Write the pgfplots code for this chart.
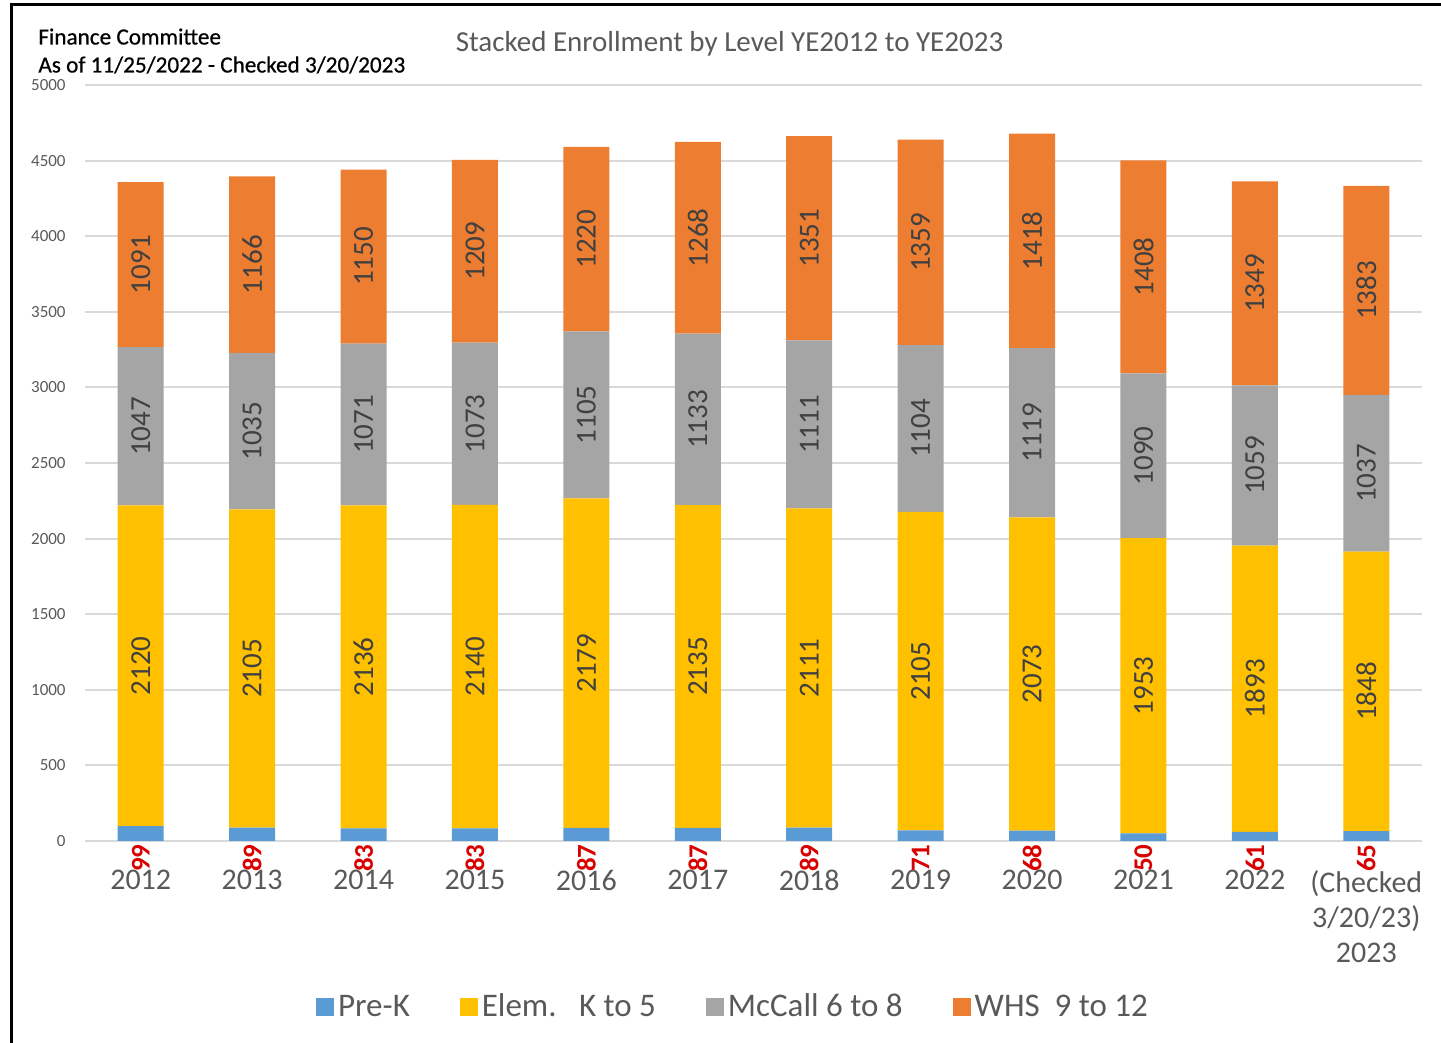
\documentclass[border=0pt]{standalone}
\usepackage{pgfplots}
\pgfplotsset{compat=1.18}
\usepackage{fontspec}
\setmainfont{Carlito}
\newfontfamily\heavyfont{Carlito}[RawFeature={embolden=0.6}]
\definecolor{prek}{HTML}{5B9BD5}
\definecolor{elem}{HTML}{FFC000}
\definecolor{mccall}{HTML}{A5A5A5}
\definecolor{whs}{HTML}{ED7D31}
\definecolor{gridc}{HTML}{D9D9D9}
\definecolor{txtg}{HTML}{595959}
\definecolor{lblg}{HTML}{404040}
\definecolor{redl}{HTML}{D80000}
\pgfplotsset{
  seglabel/.style={
    nodes near coords={\pgfmathprintnumber[fixed,precision=0]{\rawy}},
    every node near coord/.style={font=\fontsize{14.5}{16}\selectfont, text=lblg, rotate=90, anchor=center, inner sep=0pt},
  },
  prklabel/.style={
    nodes near coords={\pgfmathprintnumber[fixed,precision=0]{\rawy}},
    every node near coord/.style={font=\bfseries\fontsize{13.5}{15}\selectfont, text=redl, yshift={-0.0378pt*\rawy-1.5pt}, rotate=90, anchor=east, inner sep=0pt},
  },
}
\begin{document}
\begin{tikzpicture}
\path[use as bounding box] (0pt,0pt) rectangle (720.5pt,521.5pt);
\draw[line width=1.5pt] (5.5pt,0pt) -- (5.5pt,519pt) -- (720.5pt,519pt);
\node[anchor=base, inner sep=0pt, text=txtg, font=\fontsize{14.5}{17}\selectfont] at (364.75pt,495.5pt) {Stacked Enrollment by Level YE2012 to YE2023};
\node[anchor=base west, inner sep=0pt, font=\heavyfont\fontsize{11.6}{14}\selectfont] at (19pt,499.25pt) {Finance Committee};
\node[anchor=base west, inner sep=0pt, font=\heavyfont\fontsize{11.6}{14}\selectfont] at (19pt,485.25pt) {As of 11/25/2022 - Checked 3/20/2023};
\begin{axis}[
  at={(42.5pt,101pt)}, anchor=south west,
  scale only axis, width=668.5pt, height=378pt,
  xmin=-0.5, xmax=11.5, ymin=0, ymax=5000,
  ybar stacked, bar width=23pt,
  axis line style={draw=none},
  major tick length=0pt,
  ytick={0,500,...,5000},
  ymajorgrids, grid style={gridc, line width=1pt},
  xtick={0,...,11},
  xticklabels={2012,2013,2014,2015,2016,2017,2018,2019,2020,2021,2022,{(Checked\\3/20/23)\\2023}},
  xticklabel style={font=\fontsize{15}{17.5}\selectfont, text=txtg, align=center, anchor=north, inner sep=0pt, yshift=-14.5pt},
  yticklabel style={font=\fontsize{8.5}{10}\selectfont, text=txtg, anchor=east, inner sep=0pt, xshift=-9.5pt},
  /pgf/number format/assume math mode=true,
  /pgf/number format/1000 sep={},
  clip=false,
  legend columns=4,
  legend style={at={(0.4854,-0.2196)}, anchor=center, draw=none, fill=none, font=\fontsize{16.5}{20}\selectfont, text=txtg, /tikz/every even column/.append style={column sep=23pt}},
  legend image code/.code={\fill[#1,draw=none] (-3.5pt,-4.5pt) rectangle (5.5pt,4.5pt);},
  visualization depends on=rawy \as \rawy,
]
\addplot[fill=prek, draw=none, prklabel] coordinates {(0,99) (1,89) (2,83) (3,83) (4,87) (5,87) (6,89) (7,71) (8,68) (9,50) (10,61) (11,65)};
\addplot[fill=elem, draw=none, seglabel] coordinates {(0,2120) (1,2105) (2,2136) (3,2140) (4,2179) (5,2135) (6,2111) (7,2105) (8,2073) (9,1953) (10,1893) (11,1848)};
\addplot[fill=mccall, draw=none, seglabel] coordinates {(0,1047) (1,1035) (2,1071) (3,1073) (4,1105) (5,1133) (6,1111) (7,1104) (8,1119) (9,1090) (10,1059) (11,1037)};
\addplot[fill=whs, draw=none, seglabel] coordinates {(0,1091) (1,1166) (2,1150) (3,1209) (4,1220) (5,1268) (6,1351) (7,1359) (8,1418) (9,1408) (10,1349) (11,1383)};
\legend{Pre-K, Elem.\ \ \ K to 5, McCall 6 to 8, WHS\ \ 9 to 12}
\end{axis}
\end{tikzpicture}
\end{document}
